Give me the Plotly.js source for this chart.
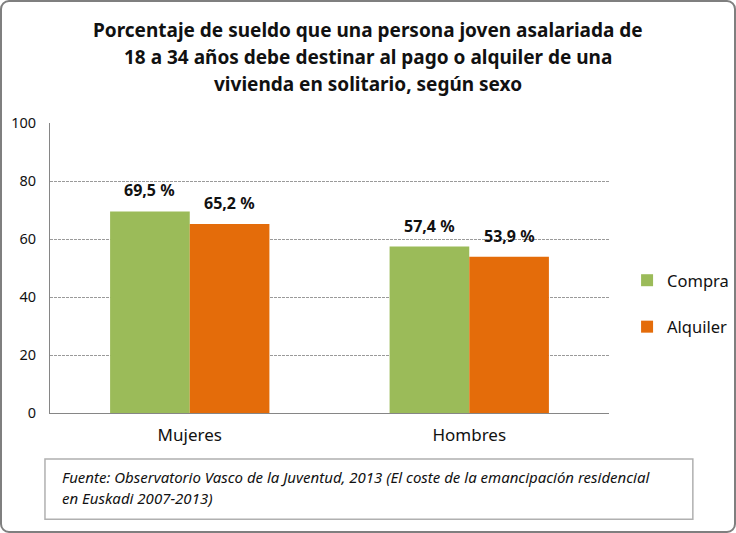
<!DOCTYPE html>
<html>
<head>
<meta charset="utf-8">
<script src="https://cdn.plot.ly/plotly-3.0.1.min.js"></script>
<style>
html,body{margin:0;padding:0;background:#fff;}
#frame{position:absolute;left:0;top:0;width:736px;height:533px;box-sizing:border-box;border:2px solid #7f7f7f;border-radius:9px;overflow:hidden;}
#chart{position:absolute;left:-2px;top:-2px;width:736px;height:533px;}
</style>
</head>
<body>
<div id="frame"><div id="chart"></div></div>
<script>
var categories = ["Mujeres", "Hombres"];
var compra = [69.5, 57.4];
var alquiler = [65.2, 53.9];
var seriesNames = ["Compra", "Alquiler"];
var yTicks = [0, 20, 40, 60, 80, 100];
var titleLines = ["Porcentaje de sueldo que una persona joven asalariada de", "18 a 34 años debe destinar al pago o alquiler de una", "vivienda en solitario, según sexo"];
var sourceLines = ["Fuente: Observatorio Vasco de la Juventud, 2013 (El coste de la emancipación residencial", "en Euskadi 2007-2013)"];

var FONT = "'Noto Sans', 'Open Sans', sans-serif";
function fmt(v){ return v.toFixed(1).replace('.', ',') + ' %'; }

var traces = [
  {type:'bar', name:seriesNames[0], x:categories, y:compra, marker:{color:'#9BBB59'}, legendgroup:'a', hoverinfo:'skip'},
  {type:'bar', name:seriesNames[1], x:categories, y:alquiler, marker:{color:'#E46C0A'}, legendgroup:'b', hoverinfo:'skip'}
];

var annotations = [];
var series = [compra, alquiler];
var shifts = [-40, 40];
for (var s = 0; s < series.length; s++) {
  for (var i = 0; i < categories.length; i++) {
    annotations.push({x:categories[i], y:series[s][i], xref:'x', yref:'y', text:'<b>'+fmt(series[s][i])+'</b>',
      showarrow:false, xanchor:'center', yanchor:'bottom', xshift:shifts[s], yshift:8,
      font:{family:FONT, size:16, color:'#111'}});
  }
}
var titleY = [1.3207, 1.2276, 1.1345];
for (var t = 0; t < titleLines.length; t++) {
  annotations.push({xref:'paper', yref:'paper', x:0.5689, y:titleY[t], xanchor:'center', yanchor:'middle', showarrow:false,
    text:'<b>'+titleLines[t]+'</b>', font:{family:FONT, size:19, color:'#111'}});
}
annotations.push({xref:'paper', yref:'paper', x:0.018, y:-0.221, xanchor:'left', yanchor:'middle', showarrow:false,
  text:'<i>'+sourceLines[0]+'</i>', font:{family:FONT, size:15, color:'#111'}});
annotations.push({xref:'paper', yref:'paper', x:0.018, y:-0.293, xanchor:'left', yanchor:'middle', showarrow:false,
  text:'<i>'+sourceLines[1]+'</i>', font:{family:FONT, size:15, color:'#111'}});

var layout = {
  width:736, height:533,
  margin:{l:50, r:127, t:123, b:120, pad:0},
  paper_bgcolor:'rgba(0,0,0,0)', plot_bgcolor:'#fff',
  barmode:'group', bargap:0.43, bargroupgap:0,
  separators:',.',
  xaxis:{type:'category', showline:true, linecolor:'#868686', linewidth:1, ticks:'', showgrid:false,
    tickfont:{family:FONT, size:17, color:'#111'}, ticklabelstandoff:7},
  yaxis:{range:[0,100], tickvals:yTicks, showline:true, linecolor:'#868686', linewidth:1, ticks:'',
    showgrid:true, gridcolor:'#9a9a9a', gridwidth:1, griddash:'3px,1px', zeroline:false,
    tickfont:{family:FONT, size:14.5, color:'#111'}, ticklabelstandoff:10},
  showlegend:true,
  legend:{xref:'container', yref:'container', x:0.852, y:0.4306, xanchor:'left', yanchor:'middle', traceorder:'grouped', tracegroupgap:22,
    font:{family:FONT, size:16.5, color:'#111'}, itemwidth:30, bgcolor:'rgba(0,0,0,0)'},
  shapes:[{type:'rect', xref:'paper', yref:'paper', x0:-0.009, x1:1.150, y0:-0.366, y1:-0.159,
    line:{color:'#b0b0b0', width:1.5}, fillcolor:'rgba(0,0,0,0)'}],
  annotations:annotations
};

Plotly.newPlot('chart', traces, layout, {displayModeBar:false, staticPlot:true});
</script>
</body>
</html>
